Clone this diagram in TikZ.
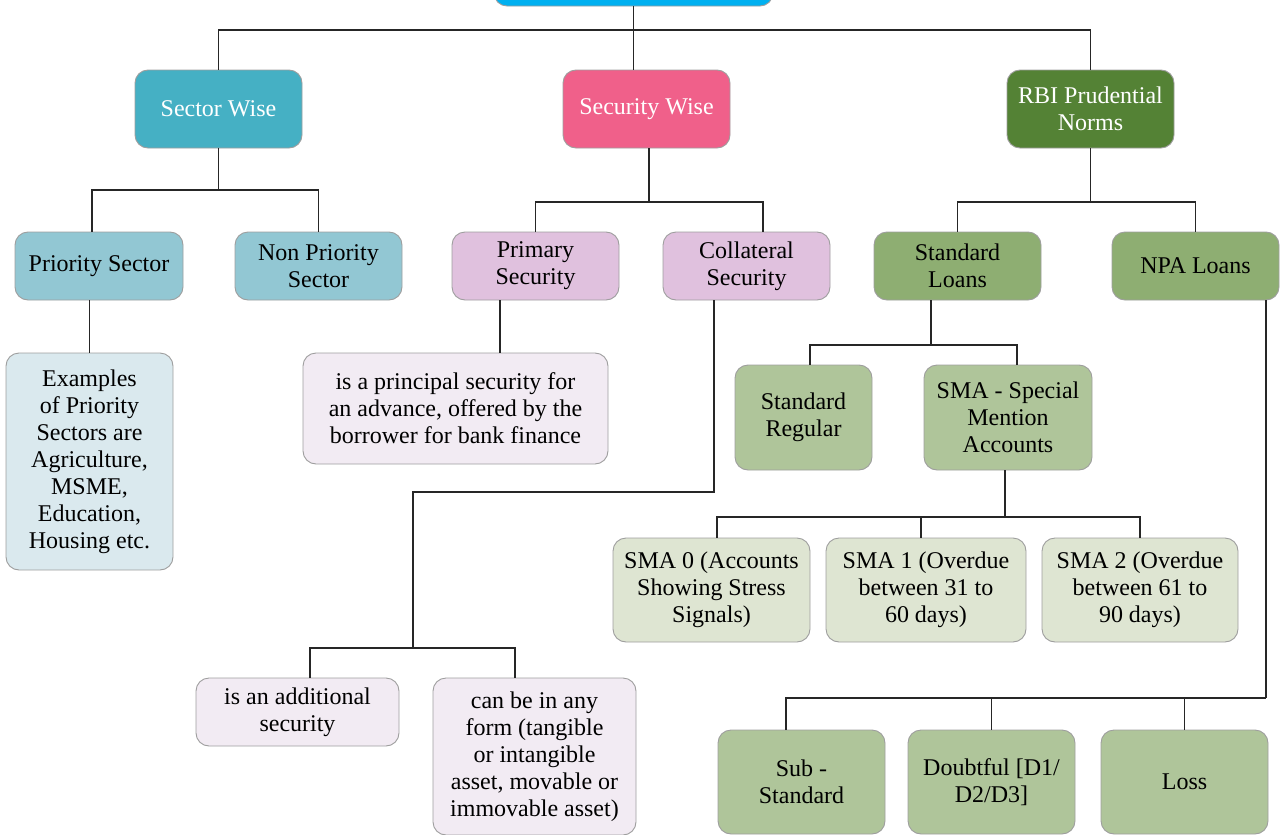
\documentclass[tikz,border=0pt]{standalone}
\usepackage{fontspec}
\setmainfont{Liberation Serif}
\usepackage{tikz}
\usetikzlibrary{calc}

\definecolor{topblue}{RGB}{0,176,240}
\definecolor{sectorteal}{RGB}{69,176,196}
\definecolor{securitypink}{RGB}{240,96,138}
\definecolor{rbigreen}{RGB}{84,130,53}
\definecolor{lightteal}{RGB}{146,199,211}
\definecolor{lilac}{RGB}{224,193,222}
\definecolor{midgreen}{RGB}{142,174,114}
\definecolor{paleteal}{RGB}{218,233,238}
\definecolor{palelilac}{RGB}{242,235,243}
\definecolor{sagegreen}{RGB}{175,197,154}
\definecolor{palesage}{RGB}{222,229,210}

\begin{document}
\begin{tikzpicture}[x=1pt,y=-1pt,
                    main node/.style={rectangle,rounded corners=13pt,draw=black!38,line width=0.9pt,
                                      align=center,inner sep=0pt,font=\fontsize{24}{27}\selectfont},
                    dark node/.style={main node,text=white},
                    wh/.style 2 args={minimum width=#1pt,minimum height=#2pt},
                    link/.style={draw=black!85,line width=1.2pt}]

 \useasboundingbox (0,0) rectangle (1283,835);

 % root and first level
 \node[dark node,fill=topblue,wh={279}{56}] (top) at (633.5,-22) {};

 \node[dark node,fill=sectorteal,wh={167}{78}] (sector) at (218.5,109) {Sector Wise};
 \node[dark node,fill=securitypink,wh={167}{78}] (security) at (646.5,109) {Security Wise};
 \node[dark node,fill=rbigreen,wh={167}{78}] (rbi) at (1090.5,109) {RBI Prudential\\Norms};

 % second level
 \node[main node,fill=lightteal,wh={168}{68}] (prio) at (99,266) {Priority Sector};
 \node[main node,fill=lightteal,wh={167}{68}] (nonprio) at (318.5,266) {Non Priority\\Sector};
 \node[main node,fill=lilac,wh={167}{68}] (primary) at (535.5,266) {Primary\\Security};
 \node[main node,fill=lilac,wh={167}{68}] (collateral) at (746.5,266) {Collateral\\Security};
 \node[main node,fill=midgreen,wh={167}{68}] (stdloans) at (957.5,266) {Standard\\Loans};
 \node[main node,fill=midgreen,wh={167}{68}] (npa) at (1195.5,266) {NPA Loans};

 % descriptions
 \node[main node,fill=paleteal,wh={167}{217}] (prioex) at (89.5,461.5)
   {Examples\\of Priority\\Sectors are\\Agriculture,\\MSME,\\Education,\\Housing etc.};
 \node[main node,fill=palelilac,wh={305}{111}] (primdesc) at (455.5,408.5)
   {is a principal security for\\an advance, offered by the\\borrower for bank finance};
 \node[main node,fill=palelilac,wh={203}{68}] (addl) at (297.5,712) {is an additional\\security};
 \node[main node,fill=palelilac,wh={203}{157}] (anyform) at (534.5,756.5)
   {can be in any\\form (tangible\\or intangible\\asset, movable or\\immovable asset)};

 % standard loans branch
 \node[main node,fill=sagegreen,wh={137}{105}] (stdreg) at (803.5,417.5) {Standard\\Regular};
 \node[main node,fill=sagegreen,wh={168}{105}] (sma) at (1008,417.5) {SMA - Special\\Mention\\Accounts};
 \node[main node,fill=palesage,wh={197}{104}] (sma0) at (711.5,590) {SMA 0 (Accounts\\Showing Stress\\Signals)};
 \node[main node,fill=palesage,wh={200}{104}] (sma1) at (926,590) {SMA 1 (Overdue\\between 31 to\\60 days)};
 \node[main node,fill=palesage,wh={196}{104}] (sma2) at (1140,590) {SMA 2 (Overdue\\between 61 to\\90 days)};

 % npa branch
 \node[main node,fill=sagegreen,wh={167}{104}] (sub) at (801.5,782) {Sub -\\Standard};
 \node[main node,fill=sagegreen,wh={167}{104}] (doubt) at (991.5,782) {Doubtful [D1/\\D2/D3]};
 \node[main node,fill=sagegreen,wh={167}{104}] (loss) at (1184.5,782) {Loss};

 % bus points
 \coordinate (b0) at (633.5,30);
 \coordinate (bsec) at (218.5,190);
 \coordinate (bsecu) at (649,202);
 \coordinate (brbi) at (1090.5,202);
 \coordinate (kink) at (413,492);
 \coordinate (bcol) at (413,648);
 \coordinate (bstd) at (931,345);
 \coordinate (bsma) at (1005,517);
 \coordinate (bnpa) at (1266,698);

 \path[link]
   (top.south) -- (top.south |- security.north)
   (sector.north) |- (b0) -| (rbi.north)
   (sector.south) -- (bsec)
   ([xshift=-7pt]prio.north) |- (bsec) -| (nonprio.north)
   ([xshift=2.5pt]security.south) -- (bsecu)
   (primary.north) |- (bsecu) -| ([xshift=16.5pt]collateral.north)
   (rbi.south) -- (brbi)
   (stdloans.north) |- (brbi) -| (npa.north)
   (prio.south -| prioex.north) -- (prioex.north)
   ([xshift=-35.5pt]primary.south) -- ([xshift=-35.5pt]primary.south |- primdesc.north)
   ([xshift=-32.5pt]collateral.south) |- (kink) -- (bcol)
   ([xshift=12.5pt]addl.north) |- (bcol) -| ([xshift=-19.5pt]anyform.north)
   ([xshift=-26.5pt]stdloans.south) -- (bstd)
   ([xshift=6.5pt]stdreg.north) |- (bstd) -| ([xshift=9pt]sma.north)
   ([xshift=-3pt]sma.south) -- (bsma)
   ([xshift=5.5pt]sma0.north) |- (bsma) -| (sma2.north)
   ([xshift=-5pt]sma1.north) -- ([xshift=-5pt]sma1.north |- bsma)
   ([xshift=70.5pt]npa.south) -- (bnpa)
   ([xshift=-15.5pt]sub.north) |- (bnpa)
   (doubt.north) -- (doubt.north |- bnpa)
   (loss.north) -- (loss.north |- bnpa);

\end{tikzpicture}
\end{document}
